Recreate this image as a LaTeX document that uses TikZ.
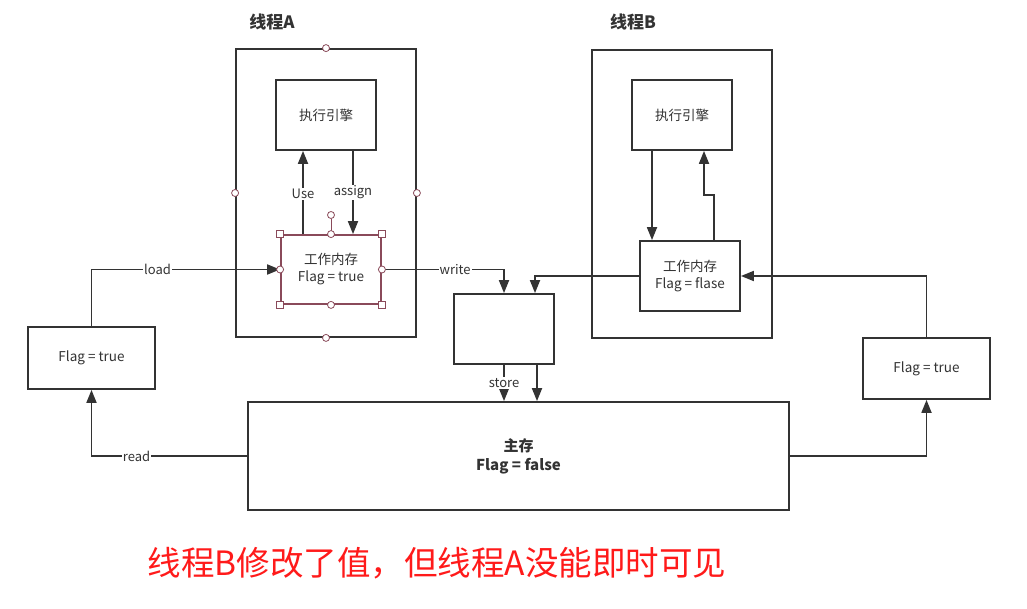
\documentclass[tikz,border=0pt]{standalone}
\usepackage{fontspec}
\setmainfont{Noto Sans CJK SC}
\usetikzlibrary{arrows.meta,calc}
\definecolor{ln}{HTML}{333333}
\definecolor{hd}{HTML}{8A4A5A}
\definecolor{redtxt}{HTML}{FF1A1A}
\begin{document}
\begin{tikzpicture}[x=1pt,y=-1pt,
  box/.style={draw=ln,line width=1.8pt,fill=white,text=ln,align=center,inner sep=0pt,font=\fontsize{13.5}{17}\selectfont},
  arr/.style={draw=ln,line width=1.8pt,-{Triangle[length=13pt,width=10pt]}},
  lab/.style={fill=white,text=ln,inner sep=1pt,font=\fontsize{13}{15}\selectfont},
  title/.style={text=ln,font=\fontsize{17}{20}\selectfont\bfseries},
  hc/.style={circle,draw=hd,fill=white,line width=0.8pt,minimum size=7pt,inner sep=0pt},
  hs/.style={rectangle,draw=hd,fill=white,line width=0.8pt,minimum size=7pt,inner sep=0pt}]
\useasboundingbox (0,0) rectangle (1027,609);
\fill[white] (0,0) rectangle (1027,609);
% thread containers
\node[box,minimum width=180pt,minimum height=288pt] (ta) at (326,193) {};
\node[box,minimum width=180pt,minimum height=288pt] (tb) at (682,194) {};
\node[title] (tat) at (272,22) {线程A};
\node[title] (tbt) at (633,22) {线程B};
% engines and working memories
\node[box,minimum width=100pt,minimum height=70pt] (ea) at (326,115) {执行引擎};
\node[box,draw=hd,minimum width=100pt,minimum height=69pt] (wa) at (331,269.5) {工作内存\\Flag = true};
\node[box,minimum width=100pt,minimum height=70pt] (eb) at (682,115) {执行引擎};
\node[box,minimum width=100pt,minimum height=70pt] (wb) at (690,276) {工作内存\\Flag = flase};
% side boxes
\node[box,minimum width=127pt,minimum height=62pt] (fl) at (91.5,358) {Flag = true};
\node[box,minimum width=127pt,minimum height=61pt] (fr) at (926.5,368.5) {Flag = true};
\node[box,minimum width=100pt,minimum height=70pt] (mid) at (504,329) {};
\node[box,minimum width=541pt,minimum height=108pt,font=\fontsize{15}{19}\selectfont\bfseries] (main) at (518.5,456) {主存\\Flag = false};
% connectors thread A
\draw[arr] ([xshift=-28pt]wa.north) -- node[lab,pos=0.48]{Use} ([xshift=-28pt]wa.north |- ea.south);
\draw[arr] ([xshift=27pt]ea.south) -- node[lab,pos=0.5]{assign} ([xshift=27pt]ea.south |- wa.north);
% thread B internal
\draw[arr] ([xshift=-30pt]eb.south) -- ([xshift=-30pt]eb.south |- wb.north);
\coordinate (bj) at ($(wb.north)+(24,-45)$);
\draw[arr] ([xshift=24pt]wb.north) -- (bj) -| ([xshift=22pt]eb.south);
% load / read
\draw[arr] (fl.north) |- node[lab,pos=0.675]{load} (wa.west);
\draw[arr] (main.west) -| node[lab,pos=0.355]{read} (fl.south);
% write / to middle
\draw[arr] (wa.east) -| node[lab,pos=0.3]{write} (mid.north);
\draw[arr] (wb.west) -| ([xshift=31pt]mid.north);
% store
\draw[arr] (mid.south) -- node[lab,pos=0.5]{store} (mid.south |- main.north);
\draw[arr] ([xshift=33pt]mid.south) -- ([xshift=33pt]mid.south |- main.north);
% right side
\draw[arr] (fr.north) |- (wb.east);
\draw[arr] (main.east) -| (fr.south);
% selection handles
\node[hc] (h1) at (ta.north) {};
\node[hc] (h2) at (ta.west) {};
\node[hc] (h3) at (ta.east) {};
\node[hc] (h4) at (ta.south) {};
\node[hc] (h5) at (331,215) {};
\draw[hd,line width=0.8pt] (h5.south) -- (wa.north);
\node[hs] at (wa.north west) {};
\node[hs] at (wa.north east) {};
\node[hs] at (wa.south west) {};
\node[hs] at (wa.south east) {};
\node[hc] at (wa.north) {};
\node[hc] at (wa.south) {};
\node[hc] at (wa.west) {};
\node[hc] at (wa.east) {};
% caption
\node[text=redtxt,font=\fontsize{33.5}{38}\selectfont] (cap) at (437,563) {线程B修改了值，但线程A没能即时可见};
\end{tikzpicture}
\end{document}
